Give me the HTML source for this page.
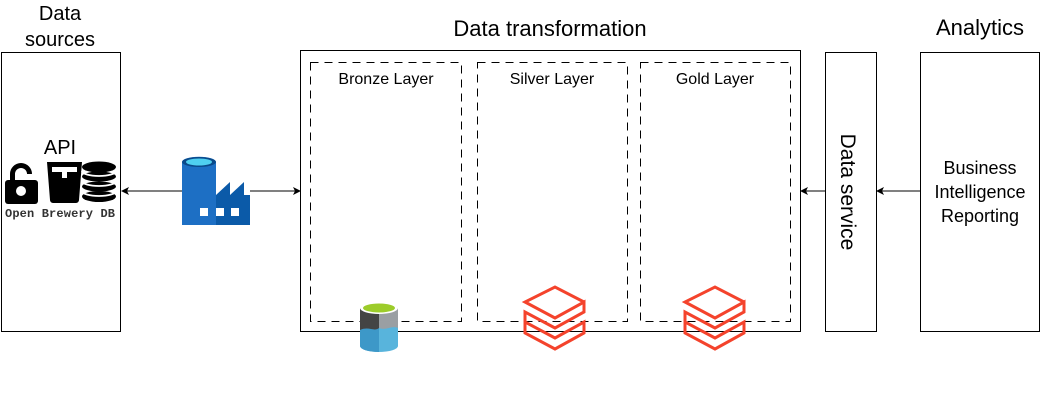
<!DOCTYPE html>
<html><head><meta charset="utf-8"><style>
html,body{margin:0;padding:0;background:#fff;}
svg{display:block;font-family:"Liberation Sans",sans-serif;}
</style></head><body>
<svg width="1041" height="400" viewBox="0 0 1041 400" xmlns="http://www.w3.org/2000/svg">
<defs>
<marker id="ah" markerWidth="8" markerHeight="8" refX="7" refY="4" orient="auto" markerUnits="userSpaceOnUse">
<path d="M0,0 L8,4 L0,8 L2,4 Z" fill="#000"/></marker>
</defs>
<text x="60" y="20" font-size="20" text-anchor="middle">Data</text>
<text x="60" y="46" font-size="20" text-anchor="middle">sources</text>
<text x="550" y="36" font-size="22" text-anchor="middle">Data transformation</text>
<text x="980" y="35" font-size="22" text-anchor="middle">Analytics</text>
<rect x="1.5" y="52.5" width="119" height="279" fill="none" stroke="#000"/>
<rect x="300.5" y="50.5" width="500" height="281" fill="none" stroke="#000"/>
<rect x="310.5" y="62.5" width="151" height="259" fill="none" stroke="#000" stroke-dasharray="8 6"/>
<rect x="477.5" y="62.5" width="150" height="259" fill="none" stroke="#000" stroke-dasharray="8 6"/>
<rect x="640.5" y="62.5" width="150" height="259" fill="none" stroke="#000" stroke-dasharray="8 6"/>
<rect x="825.5" y="52.5" width="51" height="279" fill="none" stroke="#000"/>
<rect x="920.5" y="52.5" width="119" height="279" fill="none" stroke="#000"/>
<text x="386" y="84" font-size="16" text-anchor="middle">Bronze Layer</text>
<text x="552" y="84" font-size="16" text-anchor="middle">Silver Layer</text>
<text x="715" y="84" font-size="16" text-anchor="middle">Gold Layer</text>
<text transform="translate(841,192) rotate(90)" font-size="21" text-anchor="middle">Data service</text>
<text x="980" y="174" font-size="18" text-anchor="middle">Business</text>
<text x="980" y="198" font-size="18" text-anchor="middle">Intelligence</text>
<text x="980" y="222" font-size="18" text-anchor="middle">Reporting</text>
<!-- API -->
<text x="60" y="154" font-size="20" text-anchor="middle">API</text>
<g fill="#000">
<path d="M10,180 v-6 a11,11 0 0 1 22,0 h-5 a6,6 0 0 0 -12,0 v6 z"/>
<rect x="5" y="180" width="33" height="24" rx="3"/>
<circle cx="21" cy="191" r="5" fill="#fff"/>
<path d="M47,162 h35 l-3,38 a3,3 0 0 1 -3,3 h-23 a3,3 0 0 1 -3,-3 z"/>
<path d="M52,167 h25 v5 h-10 v6 h-5 v-6 h-10 z" fill="#fff"/>
<ellipse cx="99" cy="167" rx="17" ry="5.5"/>
<ellipse cx="99" cy="176.5" rx="17" ry="5"/>
<ellipse cx="99" cy="186.5" rx="17" ry="5"/>
<ellipse cx="99" cy="196.5" rx="17" ry="5.5"/>
<g fill="none" stroke="#fff" stroke-width="1.8">
<path d="M82,171 a17,5 0 0 0 34,0"/>
<path d="M82,181 a17,5 0 0 0 34,0"/>
<path d="M82,191 a17,5 0 0 0 34,0"/>
</g>
</g>
<text x="60" y="217" font-size="12" font-family="Liberation Mono,monospace" font-weight="bold" fill="#333" text-anchor="middle" textLength="110">Open Brewery DB</text>
<!-- arrows -->
<line x1="182" y1="191" x2="122" y2="191" stroke="#000" marker-end="url(#ah)"/>
<line x1="250" y1="191" x2="300" y2="191" stroke="#000" marker-end="url(#ah)"/>
<line x1="825" y1="191" x2="801" y2="191" stroke="#000" marker-end="url(#ah)"/>
<line x1="920" y1="191" x2="877" y2="191" stroke="#000" marker-end="url(#ah)"/>
<!-- factory -->
<path d="M182,162 a16,5 0 0 1 34,0 v63 h-34 z" fill="#1d6fc4"/>
<ellipse cx="199" cy="162" rx="17" ry="5" fill="#0a4a8a"/>
<ellipse cx="199" cy="162" rx="13" ry="3.5" fill="#4fd0f0"/>
<path d="M216,195 l14,-13 v13 l14,-13 v13 h6 v30 h-34 z" fill="#0b5aa8"/>
<rect x="200" y="208" width="8" height="8" fill="#fff"/><rect x="216" y="208" width="8" height="8" fill="#fff"/><rect x="231" y="208" width="8" height="8" fill="#fff"/>
<!-- data lake bucket -->
<path d="M360,308 v38 a19,6 0 0 0 38,0 v-38 z" fill="#58b4dc"/>
<path d="M360,308 h19 v44 a19,6 0 0 1 -19,-6 z" fill="#3d98c8"/>
<path d="M360,308 h19 v20 c-5,4 -10,-2 -19,2 z" fill="#444"/>
<path d="M379,308 h19 v20 c-6,-3 -12,3 -19,0 z" fill="#9a9fa3"/>
<ellipse cx="379" cy="308" rx="19" ry="6" fill="#fff"/>
<ellipse cx="379" cy="308" rx="16" ry="4.5" fill="#9ccc2a"/>
<!-- databricks icons -->
<g fill="none" stroke="#f4432c" stroke-width="3" stroke-linejoin="miter">
<path d="M584,302 L555,287 L525,302 L555,318 L584,302 v10 L555,328 L525,312 v10 L555,338 L584,322 v11 L555,349 L525,333 v-10"/>
<path d="M744,302 L715,287 L685,302 L715,318 L744,302 v10 L715,328 L685,312 v10 L715,338 L744,322 v11 L715,349 L685,333 v-10"/>
</g>
</svg>
</body></html>
